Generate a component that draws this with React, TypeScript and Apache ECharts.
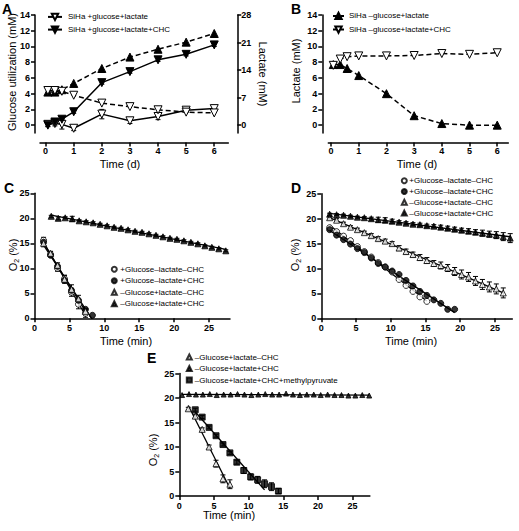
import React, { useEffect, useRef } from 'react';
import * as echarts from 'echarts';

const FONT = "'Liberation Sans', Arial, Helvetica, sans-serif";

// ---------- Panel A (days) ----------
const aDays = [0.08, 0.33, 0.58, 1, 2, 3, 4, 5, 6];
const aXTicks = [0, 1, 2, 3, 4, 5, 6];
const aYTicks = [0, 2, 4, 6, 8, 10, 12, 14];
const aY2Ticks = [0, 7, 14, 21, 28];
const aGlucose = [0.1, 0.2, 0.1, -0.4, 1.4, 0.55, 1.1, 1.9, 2.1];
const aGlucoseErr = [0.3, 0.3, 0.6, 0.3, 0.6, 0.35, 0.4, 0.3, 0.3];
const aGlucoseChc = [0.0, 0.4, 0.75, 1.7, 5.4, 6.8, 8.3, 9.0, 10.2];
const aGlucoseChcErr = [0.15, 0.2, 0.15, 0.2, 0.2, 0.2, 0.2, 0.2, 0.2];
const aLactateChc = [8.4, 8.4, 9.0, 10.6, 14.4, 17.3, 19.3, 21.1, 23.3];
const aLactate = [8.8, 8.8, 8.6, 7.6, 5.6, 4.7, 3.9, 3.3, 3.1];

// ---------- Panel B (days) ----------
const bDays = [0.08, 0.33, 0.58, 1, 2, 3, 4, 5, 6];
const bLactate = [7.7, 7.7, 7.2, 6.3, 4.0, 1.2, 0.2, 0.0, 0.0];
const bLactateChc = [7.6, 8.4, 8.7, 8.8, 8.8, 8.85, 9.1, 9.0, 9.2];

// ---------- O2 panels (minutes) ----------
const minTicks = [0, 5, 10, 15, 20, 25];
const o2Ticks = [0, 5, 10, 15, 20, 25];

// Panel C
const cFastTime = [1.3, 2.3, 3.3, 4.3, 5.3, 6.3, 7.3, 8.3];
const cGlcNoChc = [15.6, 12.8, 10.0, 7.9, 5.2, 2.8, 1.0];
const cGlcNoChcErr = [0.6, 0.5, 0.6, 0.7, 0.8, 0.9, 0.8];
const cGlcChc = [15.2, 12.6, 10.4, 7.6, 5.6, 3.6, 1.8, 0.6];
const cLacNoChc = [15.0, 13.0, 10.6, 7.8, 5.8, 3.9, 1.4];
const cLacNoChcErr = [0.7, 0.4, 0.5, 0.8, 0.9, 0.7, 0.6];
const cSlowTime = [2.4, 3.4, 4.4, 5.4, 6.4, 7.4, 8.4, 9.4, 10.4, 11.4, 12.4, 13.4, 14.4, 15.4, 16.4, 17.4, 18.4, 19.4, 20.4, 21.4, 22.4, 23.4, 24.4, 25.4, 26.4, 27.4];
const cLacChc = [20.4, 20.0, 20.1, 19.9, 19.5, 19.3, 19.1, 18.8, 18.5, 18.2, 18.0, 17.7, 17.4, 17.2, 16.9, 16.6, 16.3, 16.0, 15.8, 15.5, 15.2, 14.9, 14.5, 14.2, 13.9, 13.5];
const cLacChcErr = [0.2, 0.3, 0.2, 0.5, 0.2, 0.2, 0.2, 0.2, 0.2, 0.2, 0.2, 0.2, 0.2, 0.2, 0.2, 0.2, 0.2, 0.2, 0.2, 0.2, 0.2, 0.2, 0.2, 0.2, 0.2, 0.2];

// Panel D
const dTime = [1.2, 2.2, 3.2, 4.2, 5.2, 6.2, 7.2, 8.2, 9.2, 10.2, 11.2, 12.2, 13.2, 14.2, 15.2, 16.2, 17.2, 18.2, 19.2, 20.2, 21.2, 22.2, 23.2, 24.2, 25.2, 26.2, 27.2];
const dGlcNoChc = [18.2, 17.4, 16.5, 15.6, 14.4, 13.4, 12.3, 11.2, 10.3, 9.3, 7.8, 6.6, 5.4, 4.3, 3.4];
const dGlcChc = [17.8, 16.7, 15.8, 14.9, 14.0, 13.2, 12.1, 11.0, 10.3, 9.5, 8.8, 7.6, 6.5, 5.4, 4.6, 3.7, 3.0, 1.8, 1.8];
const dLacNoChc = [20.2, 19.7, 19.0, 18.3, 17.8, 17.2, 16.6, 16.0, 15.5, 15.0, 14.1, 13.4, 12.8, 12.2, 11.6, 11.0, 10.6, 10.1, 9.4, 8.8, 8.3, 7.5, 6.8, 6.3, 5.9, 5.1];
const dLacNoChcErr = [0.3, 0.3, 0.3, 0.3, 0.3, 0.3, 0.4, 0.4, 0.4, 0.4, 0.5, 0.5, 0.5, 0.6, 0.6, 0.6, 0.7, 0.7, 0.8, 0.9, 0.9, 0.9, 1.0, 1.0, 1.0, 1.0];
const dLacChc = [20.9, 20.8, 20.7, 20.5, 20.3, 20.2, 20.0, 19.8, 19.7, 19.5, 19.3, 19.1, 18.9, 18.8, 18.6, 18.5, 18.3, 18.1, 17.9, 17.7, 17.5, 17.3, 17.1, 16.9, 16.7, 16.4, 16.1];
const dLacChcErr = [0.2, 0.2, 0.2, 0.2, 0.2, 0.2, 0.3, 0.5, 0.5, 0.4, 0.3, 0.3, 0.3, 0.3, 0.3, 0.3, 0.4, 0.4, 0.4, 0.4, 0.5, 0.5, 0.6, 0.6, 0.7, 0.8, 0.9];

// Panel E
const eFlatTime = [0.4, 1.4, 2.4, 3.4, 4.4, 5.4, 6.4, 7.4, 8.4, 9.4, 10.4, 11.4, 12.4, 13.4, 14.4, 15.4, 16.4, 17.4, 18.4, 19.4, 20.4, 21.4, 22.4, 23.4, 24.4, 25.4, 26.4, 27.4];
const eLacChc = [20.6, 20.8, 20.7, 20.7, 20.8, 20.6, 20.7, 20.7, 20.8, 20.7, 20.6, 20.7, 20.8, 20.7, 20.7, 20.9, 20.7, 20.6, 20.7, 20.7, 20.6, 20.7, 20.6, 20.6, 20.5, 20.5, 20.6, 20.5];
const eTriTime = [1.3, 2.3, 3.3, 4.3, 5.3, 6.3, 7.3];
const eLacNoChc = [17.8, 16.3, 13.6, 10.0, 6.6, 3.5, 2.4];
const eLacNoChcErr = [0.3, 0.4, 0.3, 0.4, 0.7, 0.8, 0.9];
const eSqTime = [2.3, 3.3, 4.3, 5.3, 6.3, 7.3, 8.3, 9.3, 10.3, 11.3, 12.3, 13.3, 14.3];
const eMethylPyr = [17.6, 16.1, 14.0, 12.3, 10.5, 8.8, 6.9, 5.2, 3.9, 3.3, 2.5, 1.9, 1.0];
const eMethylPyrErr = [0.3, 0.3, 0.3, 0.3, 0.3, 0.3, 0.4, 0.6, 0.6, 0.7, 0.8, 0.8, 0.5];
const eMethylPyrFitCount = 11;

// ---------- helpers ----------
const zip = (xs: number[], ys: number[]) => ys.map((y, i) => [xs[i], y]);
const zip3 = (xs: number[], ys: number[], es: number[]) => ys.map((y, i) => [xs[i], y, es[i]]);

function fitLine(xs: number[], ys: number[], count?: number) {
  const n = count ?? ys.length;
  const X = xs.slice(0, n);
  const Y = ys.slice(0, n);
  const mx = X.reduce((a, b) => a + b, 0) / n;
  const my = Y.reduce((a, b) => a + b, 0) / n;
  let sxy = 0, sxx = 0;
  for (let i = 0; i < n; i++) { sxy += (X[i] - mx) * (Y[i] - my); sxx += (X[i] - mx) ** 2; }
  const k = sxy / sxx;
  const b = my - k * mx;
  return [[X[0], k * X[0] + b], [X[n - 1], k * X[n - 1] + b]];
}

const OPEN = { color: '#fff', borderColor: '#000', borderWidth: 1 };
const FILLED = { color: '#000', borderColor: '#000', borderWidth: 1 };

function axis(o: any) {
  return {
    type: 'value',
    gridIndex: o.grid,
    min: o.min,
    max: o.max,
    position: o.position,
    offset: o.offset ?? 0,
    axisLine: { show: true, onZero: false, lineStyle: { color: '#000', width: 1.5 } },
    axisTick: { show: true, inside: false, length: o.tick ?? 4, lineStyle: { color: '#000', width: 1.5 }, customValues: o.ticks },
    axisLabel: { show: true, customValues: o.ticks, margin: o.margin ?? 5, fontSize: 9, fontWeight: 'bold', color: '#000', fontFamily: FONT },
    splitLine: { show: false },
  };
}

function errRender(params: any, api: any) {
  const x = api.value(0), y = api.value(1), e = api.value(2);
  const hi = api.coord([x, y + e]);
  const lo = api.coord([x, y - e]);
  const w = 2.5;
  const st = { stroke: '#000', lineWidth: 1 };
  return {
    type: 'group',
    children: [
      { type: 'line', shape: { x1: hi[0], y1: hi[1], x2: lo[0], y2: lo[1] }, style: st },
      { type: 'line', shape: { x1: hi[0] - w, y1: hi[1], x2: hi[0] + w, y2: hi[1] }, style: st },
      { type: 'line', shape: { x1: lo[0] - w, y1: lo[1], x2: lo[0] + w, y2: lo[1] }, style: st },
    ],
  };
}

function errSeries(xi: number, yi: number, data: number[][]) {
  return { type: 'custom', xAxisIndex: xi, yAxisIndex: yi, data, renderItem: errRender, encode: { x: 0, y: 1 }, z: 1, silent: true };
}

function scatter(name: string, xi: number, yi: number, data: number[][], symbol: string, open: boolean, size = 6) {
  return { type: 'scatter', name, xAxisIndex: xi, yAxisIndex: yi, data, symbol, symbolSize: size, itemStyle: open ? OPEN : FILLED, z: 4 };
}

function fitSeries(xi: number, yi: number, data: number[][]) {
  return { type: 'line', name: 'fit', xAxisIndex: xi, yAxisIndex: yi, data, symbol: 'none', lineStyle: { color: '#000', width: 1.3 }, z: 2, silent: true };
}

function lineSeries(name: string, yi: number, xi: number, data: number[][], open: boolean, down: boolean, dashed: boolean) {
  return {
    type: 'line', name, xAxisIndex: xi, yAxisIndex: yi, data,
    symbol: 'triangle', symbolRotate: down ? 180 : 0, symbolSize: 8,
    itemStyle: open ? OPEN : FILLED,
    lineStyle: { color: '#000', width: 1.5, type: dashed ? [5, 3] : 'solid' },
    z: 3,
  };
}

const N_GA = 'SiHa +glucose+lactate';
const N_GAC = 'SiHa +glucose+lactate+CHC';
const N_B1 = 'SiHa \u2013glucose+lactate';
const N_B2 = 'SiHa \u2013glucose+lactate+CHC';
const N1 = '+Glucose\u2013lactate\u2013CHC';
const N2 = '+Glucose\u2013lactate+CHC';
const N3 = '\u2013Glucose+lactate\u2013CHC';
const N4 = '\u2013Glucose+lactate+CHC';
const N5 = '\u2013Glucose+lactate+CHC+methylpyruvate';

function legend(data: string[], left: number, top: number, w: number, h: number, gap: number, textShift: number) {
  return {
    data, left, top, orient: 'vertical', itemWidth: w, itemHeight: h, itemGap: gap, padding: 0,
    selectedMode: false,
    textStyle: { fontSize: 8, color: '#000', fontFamily: FONT, padding: [0, 0, 0, textShift] },
  };
}

function txt(text: string, x: number, y: number, rot = 0, size = 11, bold = false) {
  return {
    type: 'text', x, y, rotation: rot,
    style: { text, fontSize: size, fontWeight: bold ? 'bold' : 'normal', fontFamily: FONT, fill: '#000', align: 'center', verticalAlign: 'middle' },
  };
}

function o2Label(x: number, y: number) {
  return {
    type: 'text', x, y, rotation: Math.PI / 2,
    style: {
      text: '{a|O}{b|2}{a| (%)}',
      fill: '#000', align: 'center', verticalAlign: 'middle',
      rich: {
        a: { fontSize: 11, fontFamily: FONT, fill: '#000', lineHeight: 13 },
        b: { fontSize: 7, fontFamily: FONT, fill: '#000', lineHeight: 13, padding: [6, 0, 0, 0] },
      },
    },
  };
}

function letter(t: string, x: number, y: number) {
  return { type: 'text', x, y, style: { text: t, fontSize: 14, fontWeight: 'bold', fontFamily: FONT, fill: '#000', align: 'left', verticalAlign: 'top' } };
}

export default function App() {
  const ref = useRef<HTMLDivElement>(null);
  useEffect(() => {
    if (!ref.current) return;
    const chart = echarts.init(ref.current, undefined, { renderer: 'svg' });
    const option: any = {
      animation: false,
      backgroundColor: '#fff',
      grid: [
        { left: 40, top: 15, width: 188.3, height: 118, outerBoundsMode: 'none' },
        { left: 328.3, top: 15, width: 180, height: 118, outerBoundsMode: 'none' },
        { left: 34.5, top: 193.3, width: 195.5, height: 125, outerBoundsMode: 'none' },
        { left: 321.3, top: 193.8, width: 191, height: 124.5, outerBoundsMode: 'none' },
        { left: 179.3, top: 373.5, width: 190.6, height: 122.5, outerBoundsMode: 'none' },
      ],
      xAxis: [
        axis({ grid: 0, min: -0.2, max: 6.5, ticks: aXTicks, offset: 9.5, margin: 4 }),
        axis({ grid: 1, min: -0.1, max: 6.4, ticks: aXTicks, offset: 9.5, margin: 4 }),
        axis({ grid: 2, min: 0, max: 28, ticks: minTicks, margin: 5 }),
        axis({ grid: 3, min: 0, max: 27.5, ticks: minTicks, margin: 5 }),
        axis({ grid: 4, min: 0, max: 27.5, ticks: minTicks, margin: 5 }),
      ],
      yAxis: [
        axis({ grid: 0, min: -1, max: 14, ticks: aYTicks, offset: 5, margin: 5 }),
        axis({ grid: 0, min: -2, max: 28, ticks: aY2Ticks, offset: 9, margin: 4, position: 'right' }),
        axis({ grid: 1, min: -1, max: 14, ticks: aYTicks, offset: 6, margin: 5 }),
        axis({ grid: 2, min: 0, max: 25, ticks: o2Ticks, margin: 5 }),
        axis({ grid: 3, min: 0, max: 25, ticks: o2Ticks, margin: 5 }),
        axis({ grid: 4, min: 0, max: 25, ticks: o2Ticks, margin: 5 }),
      ],
      legend: [
        legend([N_GA, N_GAC], 47, 12.7, 14, 8, 4.3, 1),
        legend([N_B1, N_B2], 332, 11.7, 11, 8, 5.3, 0),
        legend([N1, N2, N3, N4], 110.8, 265.3, 5, 5, 3.5, -1.5),
        legend([N1, N2, N3, N4], 400.8, 176.7, 5, 5, 2.8, -2.5),
        legend([N3, N4, N5], 185.8, 353, 5, 5, 3.5, -2),
      ],
      series: [
        // A
        errSeries(0, 0, zip3(aDays, aGlucose, aGlucoseErr)),
        errSeries(0, 0, zip3(aDays, aGlucoseChc, aGlucoseChcErr)),
        lineSeries(N_GA, 0, 0, zip(aDays, aGlucose), true, true, false),
        lineSeries(N_GAC, 0, 0, zip(aDays, aGlucoseChc), false, true, false),
        lineSeries('A lactate +CHC', 1, 0, zip(aDays, aLactateChc), false, false, true),
        lineSeries('A lactate', 1, 0, zip(aDays, aLactate), true, true, true),
        // B
        lineSeries(N_B1, 2, 1, zip(bDays, bLactate), false, false, true),
        lineSeries(N_B2, 2, 1, zip(bDays, bLactateChc), true, true, true),
        // C
        errSeries(2, 3, zip3(cFastTime, cGlcNoChc, cGlcNoChcErr)),
        errSeries(2, 3, zip3(cFastTime, cLacNoChc, cLacNoChcErr)),
        errSeries(2, 3, zip3(cSlowTime, cLacChc, cLacChcErr)),
        fitSeries(2, 3, fitLine(cFastTime, cGlcNoChc)),
        fitSeries(2, 3, fitLine(cFastTime, cGlcChc)),
        fitSeries(2, 3, fitLine(cFastTime, cLacNoChc)),
        fitSeries(2, 3, fitLine(cSlowTime, cLacChc)),
        scatter(N1, 2, 3, zip(cFastTime, cGlcNoChc), 'circle', true),
        scatter(N2, 2, 3, zip(cFastTime, cGlcChc), 'circle', false),
        scatter(N3, 2, 3, zip(cFastTime, cLacNoChc), 'triangle', true),
        scatter(N4, 2, 3, zip(cSlowTime, cLacChc), 'triangle', false),
        // D
        errSeries(3, 4, zip3(dTime, dLacNoChc, dLacNoChcErr)),
        errSeries(3, 4, zip3(dTime, dLacChc, dLacChcErr)),
        fitSeries(3, 4, fitLine(dTime, dGlcNoChc)),
        fitSeries(3, 4, fitLine(dTime, dGlcChc)),
        fitSeries(3, 4, fitLine(dTime, dLacNoChc)),
        fitSeries(3, 4, fitLine(dTime, dLacChc)),
        scatter(N1, 3, 4, zip(dTime, dGlcNoChc), 'circle', true),
        scatter(N2, 3, 4, zip(dTime, dGlcChc), 'circle', false),
        scatter(N3, 3, 4, zip(dTime, dLacNoChc), 'triangle', true),
        scatter(N4, 3, 4, zip(dTime, dLacChc), 'triangle', false),
        // E
        errSeries(4, 5, zip3(eTriTime, eLacNoChc, eLacNoChcErr)),
        errSeries(4, 5, zip3(eSqTime, eMethylPyr, eMethylPyrErr)),
        fitSeries(4, 5, fitLine(eTriTime, eLacNoChc)),
        fitSeries(4, 5, fitLine(eFlatTime, eLacChc)),
        fitSeries(4, 5, fitLine(eSqTime, eMethylPyr, eMethylPyrFitCount)),
        scatter(N3, 4, 5, zip(eTriTime, eLacNoChc), 'triangle', true),
        scatter(N4, 4, 5, zip(eFlatTime, eLacChc), 'triangle', false, 5),
        scatter(N5, 4, 5, zip(eSqTime, eMethylPyr), 'rect', false, 6),
      ],
      graphic: [
        letter('A', 2, 2),
        letter('B', 291, 2),
        letter('C', 4, 181),
        letter('D', 291, 181),
        letter('E', 147, 351),
        txt('Glucose utilization (mM)', 12, 72, Math.PI / 2),
        txt('Lactate (mM)', 262.5, 74, -Math.PI / 2),
        txt('Lactate (mM)', 296, 71, Math.PI / 2),
        txt('Time (d)', 120, 164),
        txt('Time (d)', 417, 164),
        o2Label(13, 255),
        txt('Time (min)', 126, 341),
        o2Label(295, 255),
        txt('Time (min)', 411, 341),
        o2Label(153, 450),
        txt('Time (min)', 229, 515),
      ],
    };
    chart.setOption(option);
    return () => chart.dispose();
  }, []);
  return <div ref={ref} style={{ position: 'fixed', left: 0, top: 0, width: 519, height: 531, background: '#fff' }} />;
}
